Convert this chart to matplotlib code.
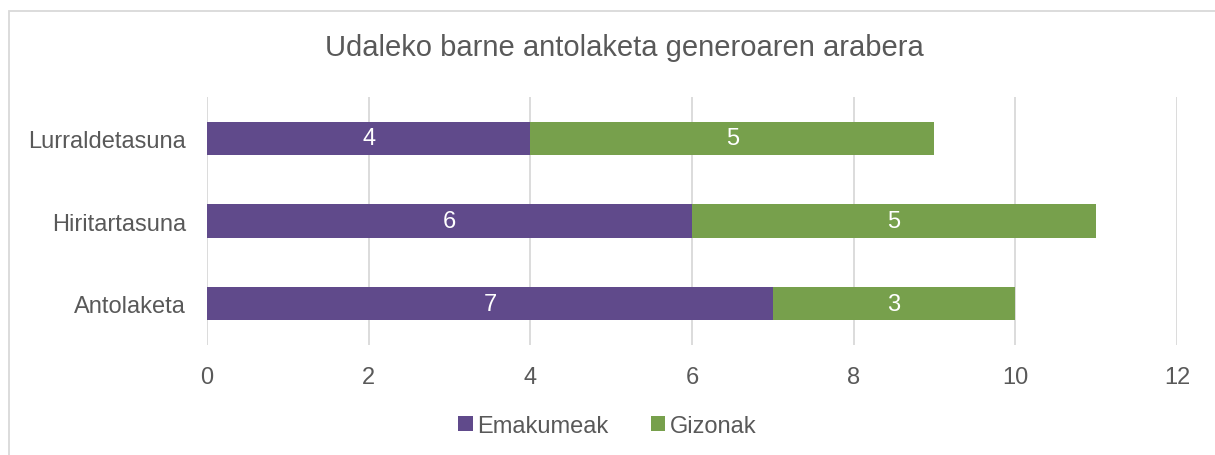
import matplotlib.pyplot as plt
from matplotlib.patches import Rectangle
import numpy as np

categories = ['Antolaketa', 'Hiritartasuna', 'Lurraldetasuna']
emakumeak = [7, 6, 4]
gizonak = [3, 5, 5]
xticks = [0, 2, 4, 6, 8, 10, 12]

purple = '#604A8B'
green = '#77A04C'
text_grey = '#595959'

plt.rcParams['font.family'] = ['Liberation Sans', 'DejaVu Sans']

fig = plt.figure(figsize=(12.15, 4.56), dpi=100)
ax = fig.add_axes([0.1704, 0.2412, 0.7983, 0.5439])

# chart border (only left and top edges visible in the crop)
W, H = 1215, 456
fig.patches.append(Rectangle((8.5 / W, -0.1), 1.2, (456 - 11 + 45) / H,
                             transform=fig.transFigure, fill=False,
                             edgecolor='#D9D9D9', linewidth=1.3))

y = np.arange(len(categories))
b1 = ax.barh(y, emakumeak, height=0.4, color=purple, label='Emakumeak', zorder=3)
b2 = ax.barh(y, gizonak, left=emakumeak, height=0.4, color=green, label='Gizonak', zorder=3)

for bars in (b1, b2):
    ax.bar_label(bars, label_type='center', color='white', fontsize=17)

ax.set_xlim(0, 12)
ax.set_ylim(-0.5, 2.5)
ax.set_xticks(xticks)
ax.set_yticks(y)
ax.set_yticklabels(categories)
ax.grid(axis='x', color='#D9D9D9', linewidth=1.3, zorder=0)
for s in ax.spines.values():
    s.set_visible(False)
ax.tick_params(length=0, labelsize=17, labelcolor=text_grey)
ax.tick_params(axis='x', pad=15)
ax.tick_params(axis='y', pad=15)

fig.text(0.5138, 1 - 48 / H, 'Udaleko barne antolaketa generoaren arabera',
         ha='center', va='center', fontsize=21, color=text_grey)

ax.legend(loc='center', bbox_to_anchor=(0.5, 1 - 427 / H), bbox_transform=fig.transFigure,
          ncol=2, frameon=False, fontsize=17, labelcolor=text_grey,
          handlelength=0.6, handleheight=0.6, handletextpad=0.2, columnspacing=1.8)

fig.savefig('out.png', dpi=100)
